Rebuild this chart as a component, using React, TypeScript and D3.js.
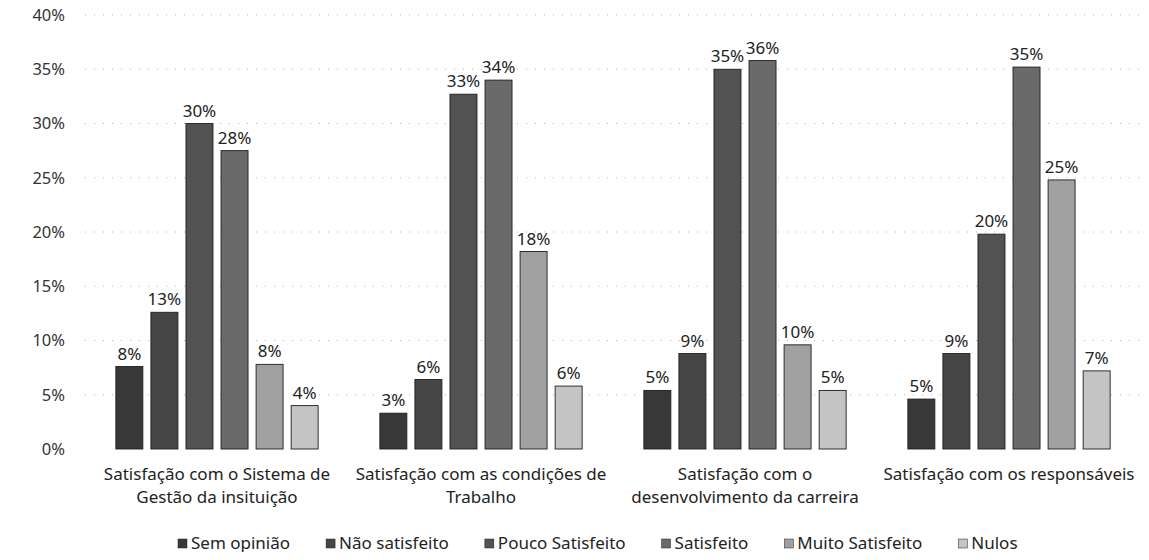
import React, { useRef, useEffect } from "react";
import * as d3 from "d3";

const categories = [
  "Satisfação com o Sistema de\nGestão da insituição",
  "Satisfação com as condições de\nTrabalho",
  "Satisfação com o\ndesenvolvimento da carreira",
  "Satisfação com os responsáveis",
];

const seriesNames = [
  "Sem opinião",
  "Não satisfeito",
  "Pouco Satisfeito",
  "Satisfeito",
  "Muito Satisfeito",
  "Nulos",
];

// values in %, one array per series (one entry per category)
const semOpiniao = [7.6, 3.3, 5.4, 4.6];
const naoSatisfeito = [12.6, 6.4, 8.8, 8.8];
const poucoSatisfeito = [30.0, 32.7, 35.0, 19.8];
const satisfeito = [27.5, 34.0, 35.8, 35.2];
const muitoSatisfeito = [7.8, 18.2, 9.6, 24.8];
const nulos = [4.0, 5.8, 5.4, 7.2];

const seriesValues = [semOpiniao, naoSatisfeito, poucoSatisfeito, satisfeito, muitoSatisfeito, nulos];

const yTicks = [0, 5, 10, 15, 20, 25, 30, 35, 40];

const colors = ["#383838", "#464646", "#525252", "#6a6a6a", "#a0a0a0", "#c4c4c4"];

const FONT = "'Noto Sans', 'Open Sans', sans-serif";

const Chart = () => {
  const svgRef = useRef<SVGSVGElement>(null);

  useEffect(() => {
    const width = 1149;
    const height = 560;
    const svg = d3.select(svgRef.current);
    svg.selectAll("*").remove();

    const x0 = d3.scaleBand().domain(categories).range([85, 1141]).padding(0);
    const x1 = d3
      .scaleBand()
      .domain(seriesNames)
      .range([0, x0.bandwidth()])
      .paddingInner(0.23)
      .paddingOuter(0.88);
    const y = d3.scaleLinear().domain([0, 40]).range([449, 15]);

    // dotted gridlines
    svg
      .append("g")
      .selectAll("line")
      .data(yTicks.filter((t) => t > 0))
      .enter()
      .append("line")
      .attr("x1", 85)
      .attr("x2", 1141)
      .attr("y1", (d) => y(d))
      .attr("y2", (d) => y(d))
      .attr("stroke", "#b4b4b4")
      .attr("stroke-width", 1)
      .attr("stroke-dasharray", "1,8");

    // y tick labels
    svg
      .append("g")
      .selectAll("text")
      .data(yTicks)
      .enter()
      .append("text")
      .attr("x", 65)
      .attr("y", (d) => y(d))
      .attr("dy", "0.35em")
      .attr("text-anchor", "end")
      .style("font-family", FONT)
      .style("font-size", "16.5px")
      .style("fill", "#333")
      .text((d) => `${d}%`);

    // bars
    const groups = svg
      .append("g")
      .selectAll("g")
      .data(categories)
      .enter()
      .append("g")
      .attr("transform", (d) => `translate(${x0(d)},0)`);

    groups
      .selectAll("rect")
      .data((_, ci) => seriesNames.map((s, si) => ({ s, si, v: seriesValues[si][ci] })))
      .enter()
      .append("rect")
      .attr("x", (d) => x1(d.s))
      .attr("y", (d) => y(d.v))
      .attr("width", x1.bandwidth())
      .attr("height", (d) => y(0) - y(d.v))
      .style("fill", (d) => colors[d.si])
      .style("stroke", "#1e1e1e")
      .style("stroke-width", 0.9);

    groups
      .selectAll("text")
      .data((_, ci) => seriesNames.map((s, si) => ({ s, si, v: seriesValues[si][ci] })))
      .enter()
      .append("text")
      .attr("x", (d) => x1(d.s) + x1.bandwidth() / 2)
      .attr("y", (d) => y(d.v) - 7)
      .attr("text-anchor", "middle")
      .style("font-family", FONT)
      .style("font-size", "17px")
      .style("fill", "#222")
      .text((d) => `${Math.round(d.v)}%`);

    // category labels
    svg
      .append("g")
      .selectAll("text")
      .data(categories)
      .enter()
      .append("text")
      .attr("x", (d) => x0(d) + x0.bandwidth() / 2)
      .attr("y", 480)
      .attr("text-anchor", "middle")
      .style("font-family", FONT)
      .style("font-size", "17px")
      .style("fill", "#222")
      .each(function (d) {
        const lines = d.split("\n");
        lines.forEach((line, i) => {
          d3.select(this)
            .append("tspan")
            .attr("x", x0(d) + x0.bandwidth() / 2)
            .attr("dy", i === 0 ? 0 : 23)
            .text(line);
        });
      });

    // legend
    const legend = svg.append("g").attr("transform", "translate(178,0)");
    let cursor = 0;
    seriesNames.forEach((s, i) => {
      const item = legend.append("g").attr("transform", `translate(${cursor},0)`);
      item
        .append("rect")
        .attr("x", 0)
        .attr("y", 539)
        .attr("width", 9)
        .attr("height", 9)
        .style("fill", colors[i])
        .style("stroke", "#222")
        .style("stroke-width", 0.5);
      const t = item
        .append("text")
        .attr("x", 13)
        .attr("y", 549)
        .style("font-family", FONT)
        .style("font-size", "17px")
        .style("fill", "#222")
        .text(s);
      const w = (t.node() as SVGTextElement).getComputedTextLength();
      cursor += 13 + w + 36;
    });

    svg.attr("width", width).attr("height", height);
  }, []);

  return <svg ref={svgRef} style={{ display: "block", background: "#fff" }} />;
};

export default function App() {
  return (
    <div style={{ margin: -8 }}>
      <Chart />
    </div>
  );
}
